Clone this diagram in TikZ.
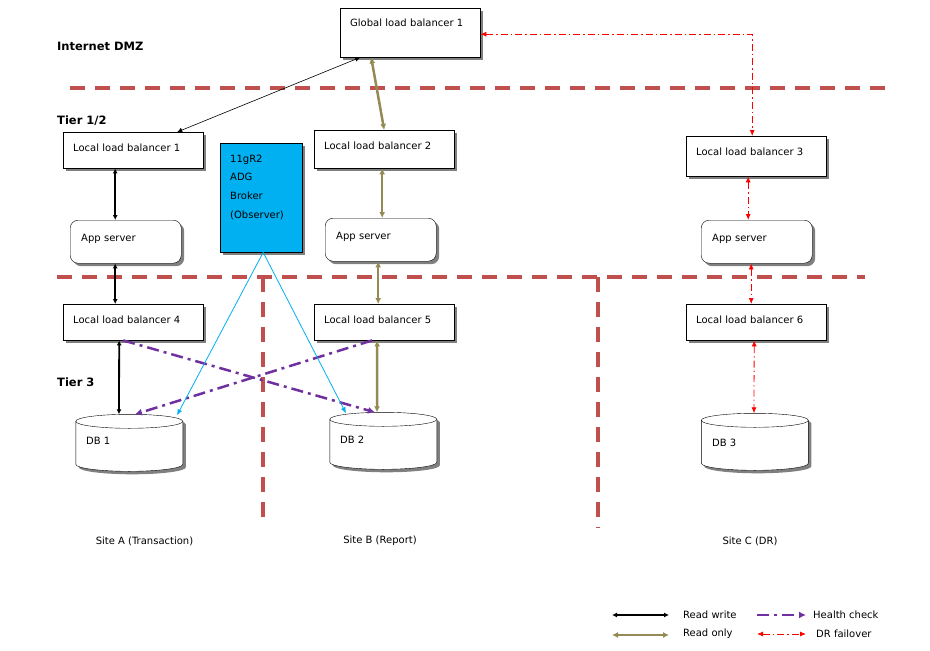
\documentclass[tikz,border=0pt]{standalone}
\usepackage{fontspec}
\setmainfont{DejaVu Sans}
\usetikzlibrary{arrows.meta,shadows}

\definecolor{zonered}{HTML}{C0504D}
\definecolor{readonly}{HTML}{948A54}
\definecolor{health}{HTML}{7030A0}
\definecolor{broker}{HTML}{00B0F0}
\definecolor{drred}{HTML}{FF0000}

\tikzset{
  shade box/.style={drop shadow={shadow xshift=3pt,shadow yshift=-3pt,fill=black!50,opacity=1}},
  lbbox/.style={draw, fill=white, shade box, anchor=north west, align=left,
    text width=120pt, inner xsep=10pt, inner ysep=0pt, text height=19pt, text depth=17pt,
    font=\fontsize{10}{12}\selectfont},
  appbox/.style={lbbox, rounded corners=8pt, text width=89pt, inner xsep=11pt,
    text height=21pt, text depth=22pt},
  dbbox/.style={minimum width=107pt, minimum height=57pt, inner sep=0pt},
  txt/.style={font=\fontsize{10}{12}\selectfont, inner sep=0pt},
  tier/.style={font=\fontsize{11.5}{14}\selectfont\bfseries, anchor=west, inner sep=0pt},
  zone/.style={zonered, line width=4pt, dash pattern=on 15pt off 10pt},
  readwrite/.style={line width=1.8pt, {Latex[length=5pt,width=5pt]}-{Latex[length=5pt,width=5pt]}},
  readonly line/.style={readonly, line width=2.5pt, {Latex[length=6pt,width=6pt]}-{Latex[length=6pt,width=6pt]}},
  healthcheck/.style={health, line width=2.5pt, dash pattern=on 12pt off 5pt on 3pt off 5pt,
    -{Latex[length=7pt,width=7pt]}},
  failover/.style={drred, line width=0.8pt, dash pattern=on 7pt off 3pt on 1.5pt off 3pt,
    {Latex[length=6pt,width=5pt]}-{Latex[length=6pt,width=5pt]}},
  observe/.style={broker, line width=0.8pt, -{Latex[length=6pt,width=5pt]}}
}

\begin{document}
\begin{tikzpicture}[x=1pt,y=-1pt]
\useasboundingbox (0,0) rectangle (930,651);

% zones
\draw[zone] (70,88) -- (885,88);
\draw[zone] (57,277) -- (865,277);
\draw[zone] (263,277) -- (263,518);
\draw[zone] (598,277) -- (598,528);

\node[tier] (dmz) at (57,46) {Internet DMZ};
\node[tier] (tier12) at (57,121) {Tier 1/2};
\node[tier] (tier3) at (57,382) {Tier 3};

% boxes
\node[lbbox, text height=18pt, text depth=31pt] (glb) at (340,8) {Global load balancer 1};
\node[lbbox] (llb1) at (63,132) {Local load balancer 1};
\node[lbbox, text depth=19pt] (llb2) at (314,130) {Local load balancer 2};
\node[lbbox, text depth=21pt] (llb3) at (686,136) {Local load balancer 3};
\node[lbbox] (llb4) at (63,304) {Local load balancer 4};
\node[lbbox] (llb5) at (314,304) {Local load balancer 5};
\node[lbbox] (llb6) at (686,304) {Local load balancer 6};

\node[appbox] (appa) at (70,220) {App server};
\node[appbox] (appb) at (325,218) {App server};
\node[appbox] (appc) at (701,220) {App server};

\node[lbbox, fill=broker, text width=62pt, text height=19pt, text depth=90pt,
  font=\fontsize{10}{18.7}\selectfont] (obs) at (220,143) {11gR2\\ADG\\Broker\\(Observer)};

% databases
\node[dbbox] (db1) at (129.5,443) {};
\node[dbbox] (db2) at (383.5,441) {};
\node[dbbox] (db3) at (755,442) {};
\foreach \d in {db1,db2,db3} {
	\fill[black!50] ([shift={(3,3)}]\d.north west) ++(0,7) -- ++(0,43)
		arc[start angle=180,end angle=0,x radius=53.5,y radius=7] -- ++(0,-43)
		arc[start angle=0,end angle=-180,x radius=53.5,y radius=7] -- cycle;
	\draw[fill=white] (\d.north west) ++(0,7) -- ++(0,43)
		arc[start angle=180,end angle=0,x radius=53.5,y radius=7] -- ++(0,-43)
		arc[start angle=0,end angle=-180,x radius=53.5,y radius=7] -- cycle;
	\draw (\d.north west) ++(0,7) arc[start angle=180,end angle=0,x radius=53.5,y radius=7];
}
\node[txt, anchor=base west] (db1txt) at (86,444) {DB 1};
\node[txt, anchor=base west] (db2txt) at (340,443) {DB 2};
\node[txt, anchor=base west] (db3txt) at (712,446) {DB 3};

% sites
\node[txt] (sitea) at (144.5,541) {Site A (Transaction)};
\node[txt] (siteb) at (380,541) {Site B (Report)};
\node[txt] (sitec) at (750,541) {Site C (DR)};

% connectors
\draw[line width=0.6pt, {Latex[length=5pt,width=5pt]}-{Latex[length=5pt,width=5pt]}]
  ([xshift=44pt]llb1.north) -- ([xshift=-50pt]glb.south);
\draw[readonly line] ([xshift=-39pt]glb.south) -- (llb2.north);
\draw[failover] ([yshift=-1.5pt]glb.east) -| ([xshift=-4pt]llb3.north);

\draw[readwrite] ([xshift=-18pt]llb1.south) -- ([xshift=-10.5pt]appa.north);
\draw[readwrite] ([xshift=-10.5pt]appa.south) -- ([xshift=-18pt]llb4.north);
\draw[readwrite] ([xshift=-14pt]llb4.south) -- ([xshift=-10.5pt]db1.north);

\draw[readonly line] ([xshift=-2pt]llb2.south) -- ([xshift=1.5pt]appb.north);
\draw[readonly line] ([xshift=-2.5pt]appb.south) -- ([xshift=-6pt]llb5.north);
\draw[readonly line] ([xshift=-7pt]llb5.south) -- ([xshift=-6.5pt]db2.north);

\draw[failover] ([xshift=-8pt]llb3.south) -- ([xshift=-8.5pt]appc.north);
\draw[failover] ([xshift=-5.5pt]appc.south) -- ([xshift=-5pt]llb6.north);
\draw[failover] ([xshift=-2pt]llb6.south) -- ([xshift=-1pt]db3.north);

\draw[healthcheck] ([xshift=-10pt]llb4.south) -- ([xshift=-8.5pt]db2.north);
\draw[healthcheck] ([xshift=-12pt]llb5.south) -- ([xshift=5.5pt]db1.north);

\draw[observe] ([xshift=2pt]obs.south) -- ([xshift=47.5pt,yshift=-1pt]db1.north);
\draw[observe] ([xshift=2pt]obs.south) -- ([xshift=-37.5pt,yshift=-1pt]db2.north);

% legend
\coordinate (rw1) at (612,615); \coordinate (rw2) at (669,615);
\coordinate (ro1) at (612,635); \coordinate (ro2) at (669,635);
\coordinate (hc1) at (757,615); \coordinate (hc2) at (806,615);
\coordinate (dr1) at (757,634); \coordinate (dr2) at (806,634);
\draw[readwrite] (rw1) -- (rw2);
\draw[readonly line] (ro1) -- (ro2);
\draw[healthcheck] (hc1) -- (hc2);
\draw[failover] (dr1) -- (dr2);
\node[txt, anchor=west] (rwtxt) at (683,615) {Read write};
\node[txt, anchor=west] (rotxt) at (683,634) {Read only};
\node[txt, anchor=west] (hctxt) at (813,615) {Health check};
\node[txt, anchor=west] (drtxt) at (816,634) {DR failover};
\end{tikzpicture}
\end{document}
